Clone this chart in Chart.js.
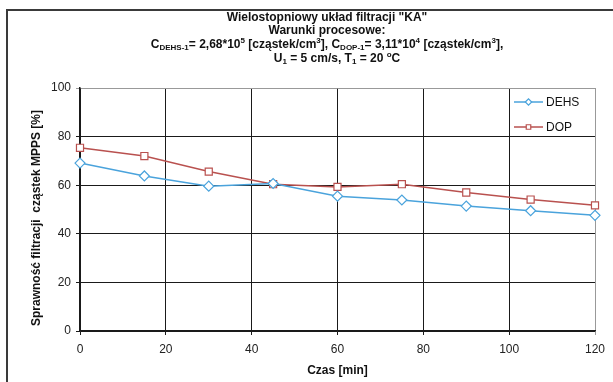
<!DOCTYPE html>
<html>
<head>
<meta charset="utf-8">
<script src="https://cdn.jsdelivr.net/npm/chart.js@4.4.1/dist/chart.umd.min.js"></script>
<style>
  html, body { margin: 0; padding: 0; background: #fff; }
  #wrap { width: 613px; height: 382px; }
</style>
</head>
<body>
<div id="wrap"><canvas id="chart" width="613" height="382"></canvas></div>
<script>
// Chart data
var times = [0, 15, 30, 45, 60, 75, 90, 105, 120];
var dehsValues = [69.1, 63.8, 59.6, 60.7, 55.5, 53.9, 51.4, 49.5, 47.6];
var dopValues = [75.4, 72.0, 65.6, 60.4, 59.3, 60.4, 57.0, 54.1, 51.7];
var seriesNames = ['DEHS', 'DOP'];
var xTicks = [0, 20, 40, 60, 80, 100, 120];
var yTicks = [0, 20, 40, 60, 80, 100];

const dehsColour = '#4aa3dc';
const dopColour = '#b9514f';
const fontName = '"Liberation Sans", Arial, sans-serif';

function toPoints(values) {
    return times.map(function (t, i) { return { x: t, y: values[i] }; });
}

/*
* Draw one line of text made of pieces, some of them sub- or superscript
*/
function drawRich(ctx, pieces, cx, y) {
    var big = 'bold 12px ' + fontName;
    var small = 'bold 8px ' + fontName;
    var total = 0;
    pieces.forEach(function (p) {
        ctx.font = p.s ? small : big;
        total += ctx.measureText(p.t).width;
    });
    var x = cx - total / 2;
    pieces.forEach(function (p) {
        ctx.font = p.s ? small : big;
        var dy = p.s == 'sub' ? 3 : (p.s == 'sup' ? -4 : 0);
        ctx.fillText(p.t, x, y + dy);
        x += ctx.measureText(p.t).width;
    });
}

// Frame, titles and legend drawn on top of the chart
const decorations = {
    id: 'decorations',
    afterDraw: function (chart) {
        var ctx = chart.ctx;
        ctx.save();

        // outer frame
        ctx.strokeStyle = '#3a3a3a';
        ctx.lineWidth = 2;
        ctx.beginPath();
        ctx.moveTo(7, 382);
        ctx.lineTo(7, 10);
        ctx.lineTo(613, 10);
        ctx.stroke();

        // title
        ctx.fillStyle = '#111';
        ctx.textBaseline = 'middle';
        ctx.textAlign = 'left';
        var cx = 327;
        drawRich(ctx, [{ t: 'Wielostopniowy układ filtracji "KA"' }], cx, 18);
        drawRich(ctx, [{ t: 'Warunki procesowe:' }], cx, 31);
        drawRich(ctx, [
            { t: 'C' }, { t: 'DEHS-1', s: 'sub' }, { t: '= 2,68*10' }, { t: '5', s: 'sup' },
            { t: ' [cząstek/cm' }, { t: '3', s: 'sup' }, { t: '], C' }, { t: 'DOP-1', s: 'sub' },
            { t: '= 3,11*10' }, { t: '4', s: 'sup' }, { t: ' [cząstek/cm' }, { t: '3', s: 'sup' }, { t: '],' }
        ], cx, 45);
        drawRich(ctx, [
            { t: 'U' }, { t: '1', s: 'sub' }, { t: ' = 5 cm/s, T' }, { t: '1', s: 'sub' },
            { t: ' = 20 ' }, { t: 'o', s: 'sup' }, { t: 'C' }
        ], cx + 10, 59);

        // y axis title
        ctx.save();
        ctx.translate(37, 218);
        ctx.rotate(-Math.PI / 2);
        ctx.textAlign = 'center';
        ctx.font = 'bold 12px ' + fontName;
        ctx.fillText('Sprawność filtracji  cząstek MPPS [%]', 0, 0);
        ctx.restore();

        // legend
        var rows = [
            { ds: chart.data.datasets[0], y: 102 },
            { ds: chart.data.datasets[1], y: 127 }
        ];
        rows.forEach(function (r) {
            ctx.strokeStyle = r.ds.borderColor;
            ctx.lineWidth = 1.5;
            ctx.beginPath();
            ctx.moveTo(514, r.y);
            ctx.lineTo(543, r.y);
            ctx.stroke();
            ctx.fillStyle = '#fff';
            ctx.lineWidth = 1.2;
            Chart.helpers.drawPoint(ctx, {
                pointStyle: r.ds.pointStyle,
                radius: 3.2,
                rotation: 0,
                borderWidth: 1.2
            }, 528.5, r.y);
            ctx.fillStyle = '#111';
            ctx.font = '12px ' + fontName;
            ctx.textAlign = 'left';
            ctx.fillText(r.ds.label, 546, r.y + 1);
        });
        ctx.restore();
    }
};

new Chart(document.getElementById('chart'), {
    type: 'line',
    data: {
        datasets: [{
            label: seriesNames[0],
            data: toPoints(dehsValues),
            borderColor: dehsColour,
            backgroundColor: '#fff',
            borderWidth: 1.5,
            pointStyle: 'rectRot',
            pointRadius: 5,
            pointBorderWidth: 1.2,
            tension: 0,
            clip: false
        }, {
            label: seriesNames[1],
            data: toPoints(dopValues),
            borderColor: dopColour,
            backgroundColor: '#fff',
            borderWidth: 1.5,
            pointStyle: 'rect',
            pointRadius: 5,
            pointBorderWidth: 1.2,
            tension: 0,
            clip: false
        }]
    },
    options: {
        responsive: false,
        animation: false,
        events: [],
        layout: { padding: { top: 88, right: 18, left: 0, bottom: 0 } },
        plugins: {
            legend: { display: false },
            title: { display: false },
            tooltip: { enabled: false }
        },
        scales: {
            x: {
                type: 'linear',
                min: 0,
                max: 120,
                afterBuildTicks: function (scale) {
                    scale.ticks = xTicks.map(function (v) { return { value: v }; });
                },
                afterFit: function (scale) { scale.height = 51; },
                grid: {
                    color: function (c) { return c.tick && c.tick.value == 120 ? '#999' : '#1a1a1a'; },
                    tickLength: 4,
                    lineWidth: 1
                },
                border: { color: '#1a1a1a', width: 1.5 },
                ticks: { color: '#222', font: { family: fontName, size: 12 }, padding: 7, maxRotation: 0 },
                title: {
                    display: true,
                    text: 'Czas [min]',
                    color: '#111',
                    font: { family: fontName, size: 12, weight: 'bold' },
                    padding: { top: 1 }
                }
            },
            y: {
                min: 0,
                max: 100,
                afterBuildTicks: function (scale) {
                    scale.ticks = yTicks.map(function (v) { return { value: v }; });
                },
                afterFit: function (scale) { scale.width = 80; },
                grid: {
                    color: function (c) { return c.tick && c.tick.value == 100 ? '#999' : '#1a1a1a'; },
                    tickLength: 4,
                    lineWidth: 1
                },
                border: { color: '#1a1a1a', width: 1.5 },
                ticks: { color: '#222', font: { family: fontName, size: 12 }, padding: 5 },
                title: { display: false }
            }
        }
    },
    plugins: [decorations]
});
</script>
</body>
</html>
